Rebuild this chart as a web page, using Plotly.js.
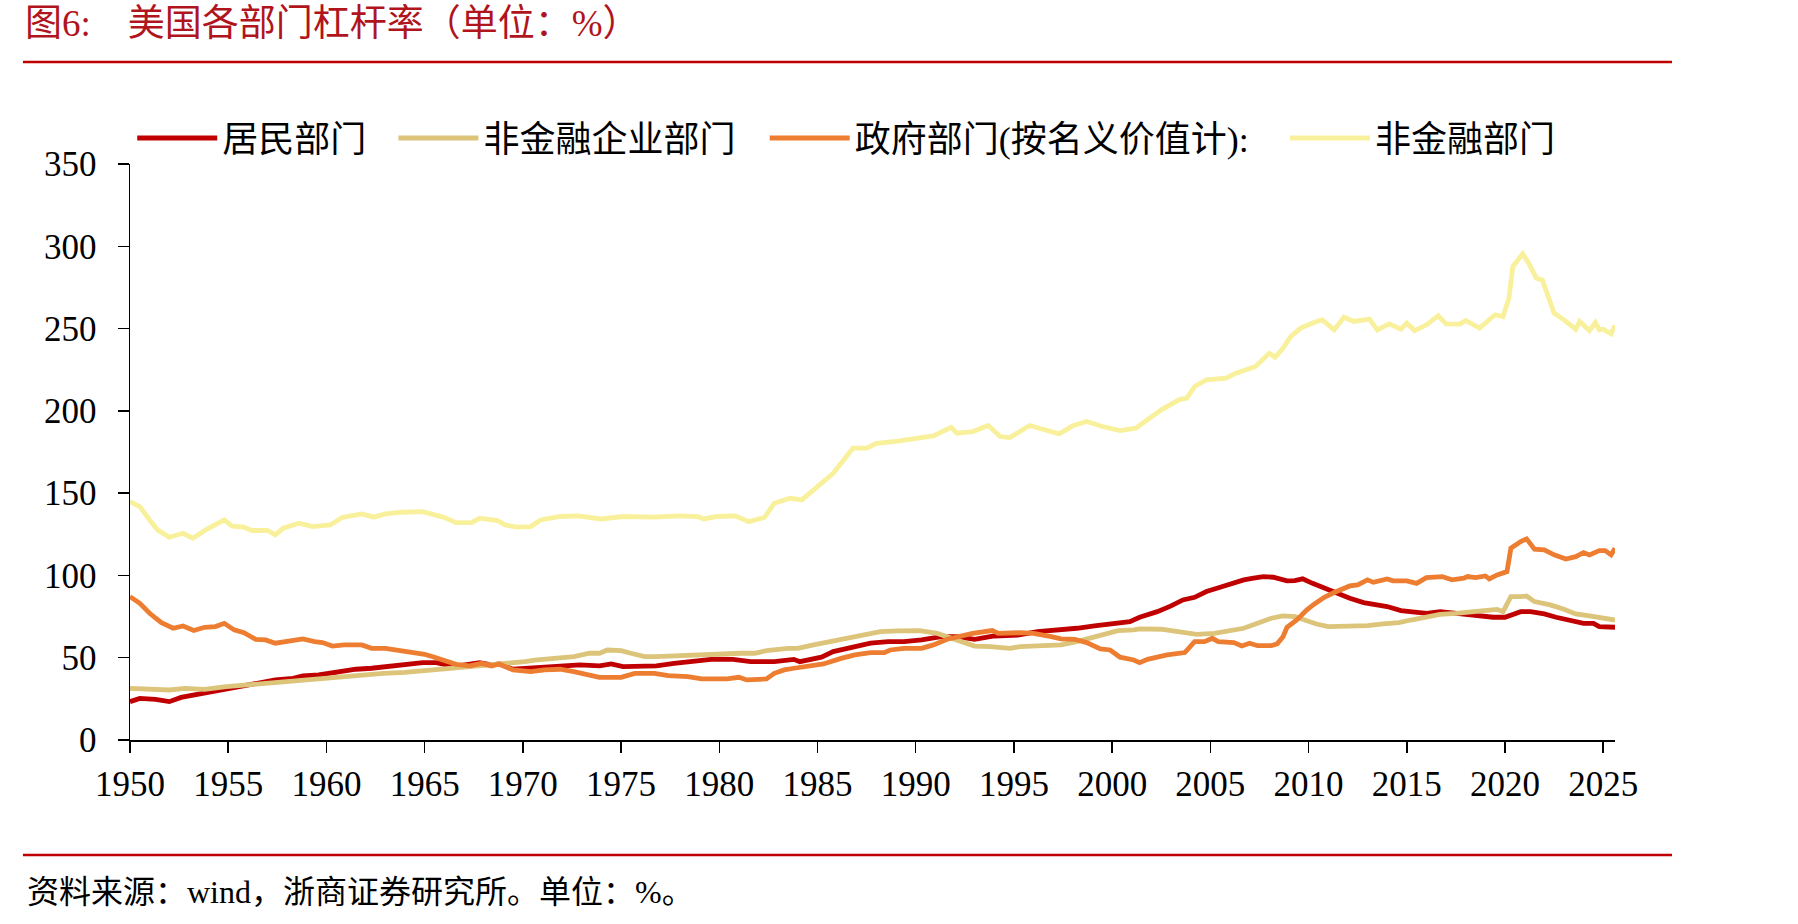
<!DOCTYPE html>
<html>
<head>
<meta charset="utf-8">
<script src="https://cdn.plot.ly/plotly-3.0.1.min.js"></script>
<style>
html,body{margin:0;padding:0;background:#fff;}
#chart{width:1798px;height:924px;}
</style>
</head>
<body>
<div id="chart"></div>
<script>
// ---- Data ----
const seriesNames = ["居民部门", "非金融企业部门", "政府部门(按名义价值计):", "非金融部门"];

const householdYears = [1950.0,1950.5,1951.3,1952.0,1952.6,1953.3,1954.0,1954.9,1955.7,1956.6,1957.4,1958.3,1958.8,1959.6,1960.5,1961.5,1962.3,1963.2,1964.0,1964.9,1965.6,1966.1,1966.7,1967.8,1968.4,1968.8,1969.5,1970.3,1970.9,1971.9,1972.9,1973.9,1974.5,1975.1,1976.0,1976.8,1977.7,1978.7,1979.7,1980.7,1981.6,1982.8,1983.8,1984.1,1985.2,1985.8,1986.7,1987.7,1988.6,1989.4,1990.3,1991.3,1992.1,1993.0,1994.0,1995.2,1996.2,1997.4,1998.2,1999.1,2000.1,2000.9,2001.4,2002.3,2003.0,2003.6,2004.2,2004.8,2005.5,2006.2,2006.7,2007.2,2007.7,2008.2,2008.6,2008.9,2009.3,2009.7,2010.2,2010.8,2011.4,2012.1,2012.8,2013.5,2014.0,2014.7,2015.3,2016.0,2016.7,2017.4,2018.1,2018.7,2019.4,2020.0,2020.3,2020.8,2021.3,2022.0,2022.6,2023.3,2024.0,2024.5,2024.8,2025.6];
const householdValues = [23.3,25.3,24.7,23.3,25.9,27.4,28.8,31.0,32.8,34.9,36.5,37.5,38.9,39.5,41.1,43.0,43.6,45.0,46.0,47.0,47.0,45.6,45.0,47.0,45.6,46.2,43.0,43.6,44.6,45.0,45.6,45.0,46.2,44.6,44.6,45.0,46.6,48.2,49.2,49.0,47.6,47.6,49.0,47.6,50.3,53.7,56.3,58.8,59.8,59.8,60.8,62.8,62.8,61.2,63.2,63.8,65.9,66.9,67.9,69.3,70.9,71.9,74.6,78.0,81.5,85.1,86.7,90.2,92.8,95.6,97.3,98.3,99.3,98.9,97.9,96.7,96.9,97.9,95.2,92.2,89.2,86.1,83.5,82.1,81.1,78.6,77.6,77.0,78.0,77.0,76.0,75.0,74.6,74.6,76.0,78.0,78.0,76.6,74.6,72.5,70.9,70.9,68.9,68.5];

const corporateYears = [1950.0,1950.8,1952.0,1952.8,1953.8,1954.9,1955.9,1956.9,1957.9,1958.9,1959.9,1960.9,1961.9,1962.9,1964.0,1965.0,1966.0,1967.1,1968.1,1969.1,1970.1,1970.6,1971.6,1972.6,1973.4,1973.9,1974.3,1975.0,1975.5,1976.2,1976.8,1977.9,1979.0,1980.1,1981.1,1981.8,1982.4,1983.5,1984.0,1984.8,1985.7,1986.3,1987.2,1988.2,1989.1,1990.2,1991.1,1991.9,1993.0,1993.8,1994.8,1995.3,1996.3,1997.4,1998.2,1999.2,2000.3,2001.1,2001.4,2002.5,2003.5,2004.3,2005.2,2006.0,2006.7,2007.4,2008.1,2008.7,2009.3,2009.8,2010.4,2011.0,2012.1,2013.0,2013.8,2014.6,2015.2,2016.0,2016.7,2017.5,2018.4,2019.1,2019.6,2019.9,2020.3,2020.8,2021.1,2021.5,2022.3,2023.0,2023.6,2024.3,2025.0,2025.6];
const corporateValues = [31.4,31.0,30.4,31.4,30.8,32.4,33.4,34.4,35.5,37.1,38.1,39.1,39.5,40.5,41.1,42.1,43.0,44.2,45.0,46.2,47.6,48.6,49.6,50.7,52.7,52.7,54.7,54.3,52.7,50.7,50.7,51.3,51.7,52.3,52.7,52.7,54.3,55.7,55.7,57.8,59.8,61.8,63.8,65.9,66.3,66.5,64.8,61.8,57.1,56.7,55.7,56.7,57.3,57.8,59.8,62.8,66.5,66.9,67.5,67.3,65.2,64.2,64.8,66.3,67.9,70.9,74.0,75.4,75.0,72.9,70.5,68.9,68.9,69.5,70.5,71.3,72.9,74.6,76.4,77.0,78.0,79.4,79.4,78.0,87.1,87.1,87.5,84.1,82.1,79.4,76.6,75.4,73.8,72.9];

const governmentYears = [1950.0,1950.5,1951.0,1951.6,1952.2,1952.7,1953.25,1953.8,1954.35,1954.8,1955.3,1955.8,1956.4,1956.9,1957.4,1958.1,1958.8,1959.4,1959.8,1960.3,1960.9,1961.8,1962.3,1963.0,1963.7,1964.4,1965.0,1965.5,1966.1,1966.6,1967.3,1967.9,1968.4,1968.8,1969.5,1970.4,1971.1,1971.9,1972.6,1973.3,1973.9,1975.0,1975.7,1976.7,1977.4,1978.4,1979.1,1980.4,1981.0,1981.4,1982.4,1982.8,1983.3,1983.8,1984.5,1985.3,1986.2,1986.9,1987.7,1988.4,1988.7,1989.4,1990.3,1990.9,1991.6,1992.3,1992.9,1993.9,1994.2,1995.3,1996.0,1996.9,1997.4,1998.1,1998.7,1999.4,1999.9,2000.4,2001.1,2001.4,2001.8,2002.8,2003.7,2004.2,2004.7,2005.1,2005.4,2006.2,2006.6,2007.0,2007.4,2008.1,2008.4,2008.7,2008.9,2009.4,2009.9,2010.3,2010.8,2011.3,2011.6,2012.1,2012.5,2013.0,2013.3,2014.0,2014.3,2015.0,2015.5,2016.0,2016.8,2017.3,2017.9,2018.1,2018.5,2019.0,2019.2,2019.6,2020.1,2020.3,2020.8,2021.1,2021.5,2022.0,2022.5,2023.1,2023.6,2024.0,2024.3,2024.8,2025.1,2025.4,2025.6];
const governmentValues = [87.1,83.1,77.0,71.3,67.9,69.3,66.5,68.5,68.9,70.9,66.9,65.2,61.2,60.8,58.8,59.8,61.4,59.8,59.2,57.1,57.8,57.8,55.7,55.7,54.3,52.7,52.1,50.3,48.2,46.0,45.0,46.6,45.0,46.2,42.6,41.5,42.6,43.0,41.5,39.5,38.1,38.1,40.5,40.5,39.1,38.5,37.1,37.1,38.1,36.5,37.1,40.5,42.6,43.6,44.6,46.2,49.6,51.7,53.1,53.1,54.7,55.7,55.7,57.8,61.2,63.2,64.8,66.5,64.8,65.2,64.8,62.8,61.4,61.2,59.2,55.3,54.7,50.3,48.6,47.0,49.0,51.7,53.1,59.8,59.8,61.8,59.8,59.2,57.1,58.8,57.3,57.3,58.4,62.8,68.5,72.9,79.0,82.7,86.7,89.6,91.2,93.6,94.2,97.3,95.8,97.9,96.7,96.7,95.2,98.7,99.3,97.3,98.3,99.3,98.7,99.7,97.9,100.3,102.3,116.5,120.6,122.2,115.9,115.5,112.5,110.0,111.4,113.9,112.5,115.1,115.1,112.5,116.5];

const nonfinancialYears = [1950.0,1950.5,1951.0,1951.4,1952.0,1952.7,1953.2,1953.9,1954.8,1955.2,1955.8,1956.2,1957.0,1957.4,1957.8,1958.6,1959.3,1960.2,1960.8,1961.8,1962.4,1963.0,1963.8,1964.9,1965.5,1966.0,1966.6,1967.4,1967.8,1968.7,1969.1,1969.7,1970.4,1970.9,1971.9,1972.8,1974.0,1975.1,1976.6,1978.0,1978.9,1979.2,1979.9,1980.8,1981.5,1982.3,1982.8,1983.6,1984.2,1984.9,1985.8,1986.2,1986.8,1987.5,1988.0,1989.0,1990.0,1990.9,1991.8,1992.1,1992.9,1993.7,1994.3,1994.8,1995.8,1996.5,1997.3,1998.0,1998.7,1999.5,2000.4,2001.2,2001.8,2002.5,2003.4,2003.8,2004.2,2004.8,2005.8,2006.3,2007.3,2008.0,2008.3,2008.7,2009.1,2009.6,2010.4,2010.7,2011.3,2011.8,2012.3,2013.1,2013.5,2014.1,2014.7,2015.0,2015.4,2016.0,2016.6,2017.0,2017.7,2018.0,2018.7,2019.1,2019.5,2019.9,2020.2,2020.4,2020.9,2021.2,2021.6,2021.9,2022.5,2023.0,2023.6,2023.8,2024.3,2024.6,2024.8,2025.0,2025.4,2025.6];
const nonfinancialValues = [144.9,141.8,133.7,127.7,123.2,125.6,122.6,128.0,133.7,130.0,129.3,127.3,127.3,124.6,128.7,131.7,129.7,130.7,135.2,137.4,135.4,137.4,138.4,138.8,136.8,135.2,132.1,132.1,134.8,133.3,130.7,129.3,129.7,133.7,135.8,136.2,134.3,135.8,135.4,136.2,135.8,134.3,135.8,136.2,132.7,135.2,143.9,146.9,145.9,153.0,162.1,168.2,177.3,177.3,180.3,181.4,183.4,184.8,190.0,186.4,187.4,191.1,184.4,183.8,191.1,188.9,186.0,190.9,193.5,190.5,188.0,189.5,194.5,200.6,206.7,207.7,214.8,218.8,219.9,222.9,227.0,235.0,232.6,238.1,245.2,250.3,254.3,255.3,249.2,256.9,254.3,255.7,249.2,252.9,249.6,253.3,248.8,252.3,257.8,252.9,252.7,254.9,250.3,254.3,258.4,257.3,268.5,287.7,295.4,289.8,280.6,279.6,259.4,255.3,249.6,254.3,248.8,253.7,249.2,249.6,246.8,251.9];

const xTickValues = [1950,1955,1960,1965,1970,1975,1980,1985,1990,1995,2000,2005,2010,2015,2020,2025];
const yTickValues = [0,50,100,150,200,250,300,350];

const titleText = "图6:\u2003美国各部门杠杆率（单位：%）";
const sourceText = "资料来源：wind，浙商证券研究所。单位：%。";

// ---- Styles ----
const colors = ["#C00000", "#DCC47A", "#ED7D31", "#F9F09C"];
const serif = "Liberation Serif, Noto Sans CJK SC, serif";
const cjk = "Liberation Serif, Noto Sans CJK SC, sans-serif";
const legendIds = ["legend", "legend2", "legend3", "legend4"];
const legendX = [0.0015, 0.1774, 0.4274, 0.7778];

const xs = [householdYears, corporateYears, governmentYears, nonfinancialYears];
const ys = [householdValues, corporateValues, governmentValues, nonfinancialValues];

const traces = seriesNames.map((name, i) => ({
  type: "scatter",
  mode: "lines",
  name: name,
  legend: legendIds[i],
  x: xs[i],
  y: ys[i],
  line: {color: colors[i], width: 4.8, shape: "linear"},
  hoverinfo: "skip"
}));

function legendBox(x) {
  return {
    orientation: "h",
    x: x, xanchor: "left",
    y: 1.045, yanchor: "middle",
    font: {family: cjk, size: 36, color: "#000000"},
    itemwidth: 80,
    bgcolor: "rgba(0,0,0,0)",
    itemclick: false
  };
}

const ruleColor = "#C00000";

const layout = {
  width: 1798,
  height: 924,
  paper_bgcolor: "#ffffff",
  plot_bgcolor: "#ffffff",
  margin: {l: 130, r: 183, t: 164, b: 184, pad: 0},
  showlegend: true,
  title: {
    text: titleText,
    font: {family: cjk, size: 37, color: "#B0141C"},
    xref: "container", yref: "container",
    x: 0.0139, xanchor: "left",
    y: 0.975, yanchor: "middle"
  },
  xaxis: {
    range: [1950, 2025.6],
    tickmode: "array",
    tickvals: xTickValues,
    ticktext: xTickValues.map(String),
    showgrid: false,
    zeroline: false,
    showline: true,
    linecolor: "#000000",
    linewidth: 1.5,
    ticks: "outside",
    ticklen: 11,
    tickwidth: 1.5,
    tickcolor: "#000000",
    ticklabelstandoff: 1,
    tickfont: {family: serif, size: 35, color: "#000000"}
  },
  yaxis: {
    range: [0, 350],
    tickmode: "array",
    tickvals: yTickValues,
    ticktext: yTickValues.map(String),
    showgrid: false,
    zeroline: false,
    showline: true,
    linecolor: "#000000",
    linewidth: 1.5,
    ticks: "outside",
    ticklen: 11,
    tickwidth: 1.5,
    tickcolor: "#000000",
    ticklabelstandoff: 14,
    tickfont: {family: serif, size: 35, color: "#000000"}
  },
  shapes: [
    {type: "line", xref: "paper", yref: "paper", x0: -0.0721, x1: 1.0384, y0: 1.177, y1: 1.177,
     line: {color: ruleColor, width: 2.5}},
    {type: "line", xref: "paper", yref: "paper", x0: -0.0721, x1: 1.0384, y0: -0.1997, y1: -0.1997,
     line: {color: ruleColor, width: 2.5}}
  ],
  annotations: [
    {text: sourceText, xref: "paper", yref: "paper", x: -0.0708, y: -0.2639,
     xanchor: "left", yanchor: "middle", showarrow: false,
     font: {family: cjk, size: 32, color: "#000000"}}
  ]
};
legendIds.forEach((id, i) => { layout[id] = legendBox(legendX[i]); });

Plotly.newPlot("chart", traces, layout, {displayModeBar: false, staticPlot: true});
</script>
</body>
</html>
